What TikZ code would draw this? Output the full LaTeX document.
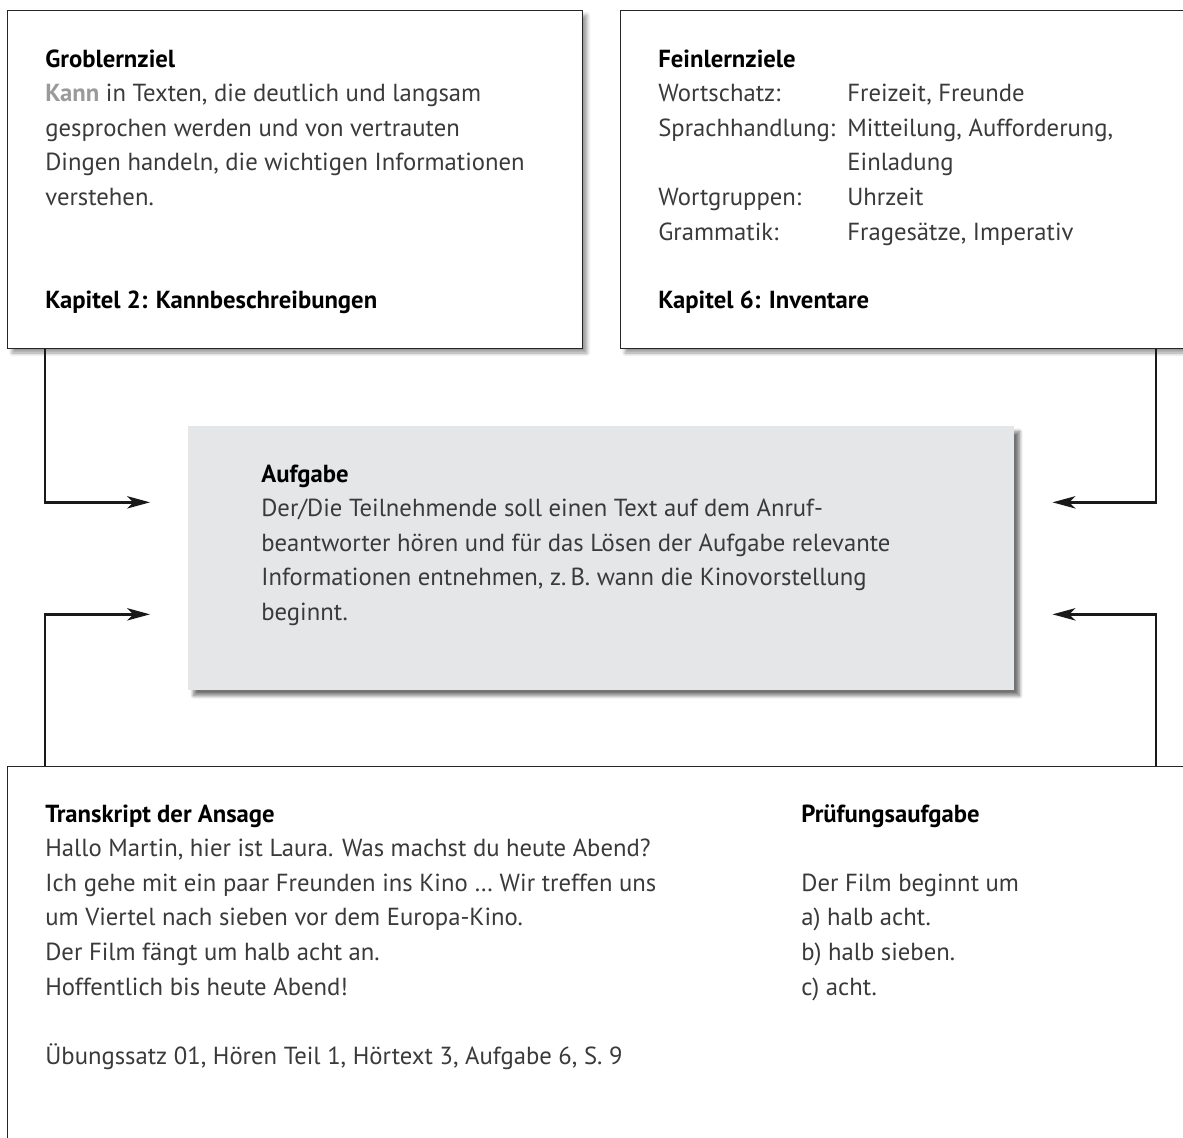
\documentclass[tikz,border=0pt]{standalone}
\usepackage{fontspec}
\setmainfont{PT Sans}
\usetikzlibrary{arrows.meta,shadows,shadows.blur}

\definecolor{txtgray}{HTML}{3A3A3A}
\definecolor{kanngray}{HTML}{9A9A9A}
\definecolor{taskfill}{HTML}{E5E6E8}
\newcommand{\hd}[1]{\textcolor{black}{\textbf{#1}}}

\tikzset{
  frame/.style={rectangle, draw=black!85, line width=0.8pt, fill=white, inner sep=0pt, anchor=north west,
    blur shadow={shadow xshift=2.5pt, shadow yshift=-2.5pt, shadow blur steps=6, shadow opacity=40}},
  taskbox/.style={rectangle, fill=taskfill, inner sep=0pt, anchor=north west,
    blur shadow={shadow xshift=3pt, shadow yshift=-3pt, shadow blur steps=8, shadow opacity=55}},
  txt/.style={anchor=base west, inner sep=0pt, text=txtgray, font=\fontsize{14.05}{19.7}\selectfont},
  arr/.style={-{Stealth[length=13pt,width=7pt,inset=3.5pt]}, line width=1.5pt, black!90},
}

\begin{document}
\begin{tikzpicture}[x=0.02cm,y=-0.02cm]
  \useasboundingbox (0,0) rectangle (1183,1137);
  \coordinate (lx) at (45,0);
  \coordinate (rx) at (1156,0);

  % boxes
  \node[frame, minimum width=11.5cm, minimum height=6.76cm] (grob) at (7,10) {};
  \node[frame, minimum width=14cm, minimum height=6.76cm] (fein) at (620,10) {};
  \node[taskbox, minimum width=16.52cm, minimum height=5.28cm] (aufg) at (188,426) {};
  \node[frame, minimum width=26cm, minimum height=8cm] (trans) at (7,766) {};

  % connectors
  \draw[arr] (grob.south -| lx) |- ([shift={(-38,-56)}]aufg.west);
  \draw[arr] (trans.north -| lx) |- ([shift={(-38,56)}]aufg.west);
  \draw[arr] (fein.south -| rx) |- ([shift={(38,-56)}]aufg.east);
  \draw[arr] (trans.north -| rx) |- ([shift={(38,56)}]aufg.east);

  % texts
  \node[txt] (grobtxt) at (45,67) {\begin{tabular}[t]{@{}l@{}}
    \hd{Groblernziel}\\
    \textcolor{kanngray}{\textbf{Kann}} in Texten, die deutlich und langsam\\
    gesprochen werden und von vertrauten\\
    Dingen handeln, die wichtigen Informationen\\
    verstehen.
  \end{tabular}};
  \node[txt] (grobkap) at (45,308) {\hd{Kapitel 2: Kannbeschreibungen}};

  \node[txt] (feintxt) at (658,67) {\begin{tabular}[t]{@{}p{107.6pt}@{}l@{}}
    \multicolumn{2}{@{}l@{}}{\hd{Feinlernziele}}\\
    Wortschatz: & Freizeit, Freunde\\
    Sprachhandlung: & Mitteilung, Aufforderung,\\
     & Einladung\\
    Wortgruppen: & Uhrzeit\\
    Grammatik: & Fragesätze, Imperativ
  \end{tabular}};
  \node[txt] (feinkap) at (658,308) {\hd{Kapitel 6: Inventare}};

  \node[txt] (aufgtxt) at (261,482) {\begin{tabular}[t]{@{}l@{}}
    \hd{Aufgabe}\\
    Der/Die Teilnehmende soll einen Text auf dem Anruf-\\
    beantworter hören und für das Lösen der Aufgabe relevante\\
    Informationen entnehmen, z.\,B. wann die Kinovorstellung\\
    beginnt.
  \end{tabular}};

  \node[txt] (transtxt) at (45,822) {\begin{tabular}[t]{@{}l@{}}
    \hd{Transkript der Ansage}\\
    Hallo Martin, hier ist Laura. Was machst du heute Abend?\\
    Ich gehe mit ein paar Freunden ins Kino … Wir treffen uns\\
    um Viertel nach sieben vor dem Europa-Kino.\\
    Der Film fängt um halb acht an.\\
    Hoffentlich bis heute Abend!\\
    \\
    Übungssatz 01, Hören Teil 1, Hörtext 3, Aufgabe 6, S. 9
  \end{tabular}};

  \node[txt] (pruef) at (801,822) {\begin{tabular}[t]{@{}l@{}}
    \hd{Prüfungsaufgabe}\\
    \\
    Der Film beginnt um\\
    a) halb acht.\\
    b) halb sieben.\\
    c) acht.
  \end{tabular}};
\end{tikzpicture}
\end{document}
